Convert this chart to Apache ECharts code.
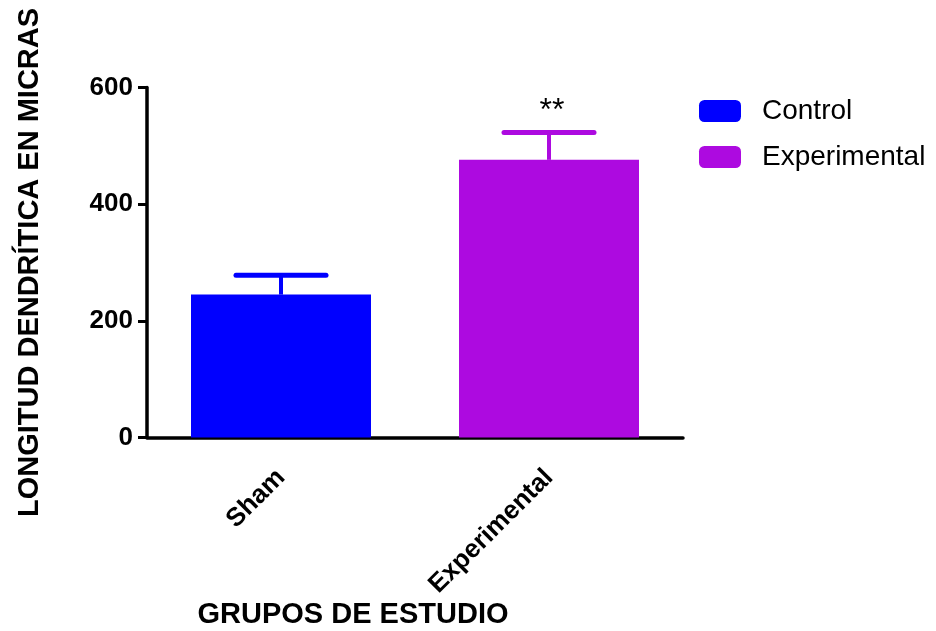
<!DOCTYPE html>
<html>
<head>
<meta charset="utf-8">
<script src="https://cdn.jsdelivr.net/npm/echarts@6/dist/echarts.min.js"></script>
<style>
  html, body { margin: 0; padding: 0; background: #fff; }
  #chart { width: 936px; height: 631px; }
</style>
</head>
<body>
<div id="chart"></div>
<script>
// Dendritic length per study group (mean with upper SEM bar)
const categories = ['Sham', 'Experimental'];
const seriesNames = ['Control', 'Experimental'];
const means = [245, 476];
const sem = [33, 47];
const significance = ['', '**'];
const yTicks = [0, 200, 400, 600];

const colors = ['#0000FF', '#AD0AE0'];
const FONT = 'Liberation Sans, Arial, sans-serif';

const chart = echarts.init(document.getElementById('chart'));

// one bar series per group so the legend lists both
const barSeries = seriesNames.map((name, i) => ({
  name: name,
  type: 'bar',
  barWidth: 180,
  barGap: '-100%',
  itemStyle: { color: colors[i] },
  data: categories.map((c, j) => (j === i ? means[j] : '-')),
  z: 2
}));

const errorSeries = {
  type: 'custom',
  z: 3,
  data: categories.map((c, i) => [i, means[i], means[i] + sem[i]]),
  renderItem: function (params, api) {
    const idx = api.value(0);
    const base = api.coord([idx, api.value(1)]);
    const top = api.coord([idx, api.value(2)]);
    const halfCap = 45;
    const col = colors[params.dataIndex];
    const children = [
      {
        type: 'line',
        shape: { x1: base[0], y1: base[1], x2: top[0], y2: top[1] },
        style: { stroke: col, lineWidth: 4 }
      },
      {
        type: 'line',
        shape: { x1: top[0] - halfCap, y1: top[1], x2: top[0] + halfCap, y2: top[1] },
        style: { stroke: col, lineWidth: 5, lineCap: 'round' }
      }
    ];
    const mark = significance[params.dataIndex];
    if (mark) {
      children.push({
        type: 'text',
        style: {
          x: top[0] + 3, y: top[1] - 21,
          text: mark, fill: '#000',
          font: 'normal 32px ' + FONT,
          align: 'center', verticalAlign: 'middle'
        }
      });
    }
    return { type: 'group', children: children };
  }
};

chart.setOption({
  backgroundColor: '#fff',
  animation: false,
  grid: { left: 147, right: 253, top: 87.5, bottom: 193.5, containLabel: false, outerBoundsMode: 'none' },
  legend: {
    orient: 'vertical',
    left: 694,
    top: 92,
    itemWidth: 42,
    itemHeight: 22,
    itemGap: 18,
    icon: 'roundRect',
    textStyle: { fontFamily: FONT, fontSize: 28, color: '#000', padding: [0, 0, 0, 16] },
    data: seriesNames
  },
  xAxis: {
    type: 'category',
    data: categories,
    name: 'GRUPOS DE ESTUDIO',
    nameLocation: 'middle',
    nameGap: 163,
    nameMoveOverlap: false,
    nameTextStyle: { fontFamily: FONT, fontSize: 29, fontWeight: 'bold', color: '#000', padding: [0, 124, 0, 0] },
    axisLine: { lineStyle: { color: '#000', width: 3.5 } },
    axisTick: { alignWithLabel: true, length: 10, lineStyle: { color: '#000', width: 3 } },
    axisLabel: {
      rotate: 45, margin: 36, color: '#000',
      fontFamily: FONT, fontSize: 26, fontWeight: 'bold'
    },
    splitLine: { show: false }
  },
  yAxis: {
    type: 'value',
    min: yTicks[0],
    max: yTicks[yTicks.length - 1],
    interval: yTicks[1] - yTicks[0],
    name: 'LONGITUD DENDRÍTICA EN MICRAS',
    nameLocation: 'middle',
    nameGap: 103,
    nameRotate: 90,
    nameTextStyle: { fontFamily: FONT, fontSize: 29, fontWeight: 'bold', color: '#000' },
    axisLine: { show: true, lineStyle: { color: '#000', width: 3.5 } },
    axisTick: { show: true, length: 9, lineStyle: { color: '#000', width: 3 } },
    axisLabel: {
      margin: 14, color: '#000',
      fontFamily: FONT, fontSize: 26, fontWeight: 'bold'
    },
    splitLine: { show: false }
  },
  series: barSeries.concat([errorSeries])
});
</script>
</body>
</html>
